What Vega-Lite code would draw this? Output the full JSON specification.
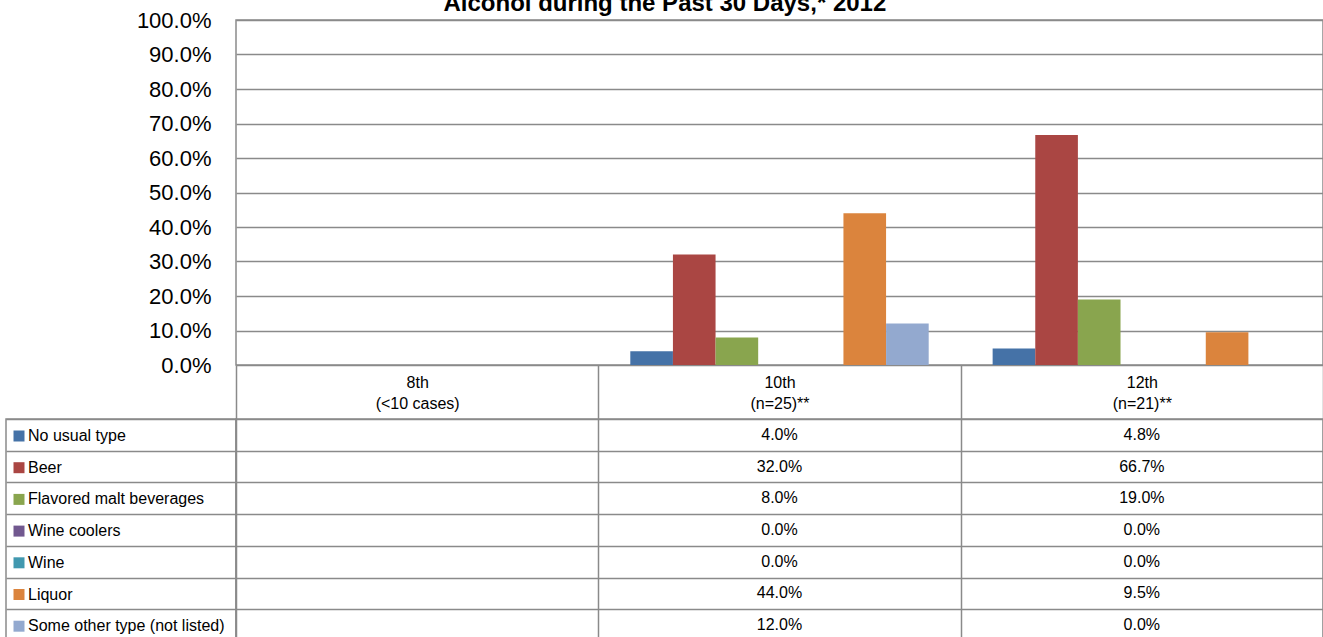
{
  "$schema": "https://vega.github.io/schema/vega-lite/v6.json",
  "padding": {"left": 5, "top": -8, "right": 0, "bottom": 0},
  "background": "white",
  "title": {
    "text": "Alcohol during the Past 30 Days,* 2012",
    "font": "Liberation Sans",
    "fontSize": 24,
    "fontWeight": "bold",
    "color": "black",
    "anchor": "middle",
    "offset": -8
  },
  "config": {
    "font": "Liberation Sans",
    "view": {"stroke": "#8a8a8a", "strokeWidth": 1.5}
  },
  "datasets": {
    "pct": [
      {"grade": "10th", "type": "No usual type", "value": 0.04},
      {"grade": "10th", "type": "Beer", "value": 0.32},
      {"grade": "10th", "type": "Flavored malt beverages", "value": 0.08},
      {"grade": "10th", "type": "Wine coolers", "value": 0.0},
      {"grade": "10th", "type": "Wine", "value": 0.0},
      {"grade": "10th", "type": "Liquor", "value": 0.44},
      {"grade": "10th", "type": "Some other type (not listed)", "value": 0.12},
      {"grade": "12th", "type": "No usual type", "value": 0.048},
      {"grade": "12th", "type": "Beer", "value": 0.667},
      {"grade": "12th", "type": "Flavored malt beverages", "value": 0.19},
      {"grade": "12th", "type": "Wine coolers", "value": 0.0},
      {"grade": "12th", "type": "Wine", "value": 0.0},
      {"grade": "12th", "type": "Liquor", "value": 0.095},
      {"grade": "12th", "type": "Some other type (not listed)", "value": 0.0}
    ]
  },
  "columns": 2,
  "spacing": {"row": 54, "column": 0},
  "bounds": "flush",
  "concat": [
    {
      "width": 230,
      "height": 345,
      "view": {"stroke": null},
      "data": {"name": "pct"},
      "mark": {"type": "text", "opacity": 0},
      "encoding": {"text": {"value": ""}}
    },
    {
      "width": 1087,
      "height": 345,
      "data": {"name": "pct"},
      "mark": {"type": "bar"},
      "encoding": {
        "x": {
          "field": "grade",
          "type": "nominal",
          "scale": {"domain": ["8th", "10th", "12th"], "paddingInner": 0, "paddingOuter": 0},
          "axis": {
            "title": null,
            "orient": "bottom",
            "domain": false,
            "grid": false,
            "ticks": true,
            "tickBand": "extent",
            "tickSize": 54,
            "tickColor": "#8a8a8a",
            "tickWidth": 1.5,
            "labelAngle": 0,
            "labelFontSize": 16,
            "labelColor": "black",
            "labelLineHeight": 21.5,
            "labelBaseline": "top",
            "labelPadding": -45,
            "labelExpr": "datum.extra ? '' : datum.value == '8th' ? ['8th', '(<10 cases)'] : datum.value == '10th' ? ['10th', '(n=25)**'] : ['12th', '(n=21)**']"
          }
        },
        "xOffset": {
          "field": "type",
          "type": "nominal",
          "scale": {
            "domain": ["No usual type", "Beer", "Flavored malt beverages", "Wine coolers", "Wine", "Liquor", "Some other type (not listed)"],
            "paddingInner": 0,
            "paddingOuter": 0.75
          }
        },
        "y": {
          "field": "value",
          "type": "quantitative",
          "scale": {"domain": [0, 1]},
          "axis": {
            "title": null,
            "format": ".1%",
            "values": [0, 0.1, 0.2, 0.3, 0.4, 0.5, 0.6, 0.7, 0.8, 0.9, 1],
            "domain": false,
            "ticks": false,
            "grid": true,
            "gridColor": "#8a8a8a",
            "gridWidth": 1.5,
            "labelFontSize": 22,
            "labelColor": "black",
            "labelPadding": 25
          }
        },
        "color": {
          "field": "type",
          "type": "nominal",
          "scale": {
            "domain": ["No usual type", "Beer", "Flavored malt beverages", "Wine coolers", "Wine", "Liquor", "Some other type (not listed)"],
            "range": ["#4572a7", "#aa4643", "#89a54e", "#71588f", "#4198af", "#db843d", "#93a9cf"]
          },
          "legend": {
            "title": null,
            "orient": "none",
            "legendX": 5,
            "legendY": 408,
            "direction": "vertical",
            "symbolType": "square",
            "symbolSize": 121,
            "symbolStrokeWidth": 0,
            "labelFontSize": 16,
            "labelColor": "black",
            "labelOffset": 1,
            "rowPadding": 15.7,
            "padding": 0,
            "labelLimit": 220
          }
        }
      }
    },
    {
      "width": 230,
      "height": 222,
      "data": {"name": "pct"},
      "mark": {"type": "text", "opacity": 0},
      "encoding": {
        "y": {
          "field": "type",
          "type": "nominal",
          "scale": {
            "domain": ["No usual type", "Beer", "Flavored malt beverages", "Wine coolers", "Wine", "Liquor", "Some other type (not listed)"],
            "paddingInner": 0,
            "paddingOuter": 0
          },
          "axis": {
            "title": null,
            "labels": false,
            "ticks": false,
            "domain": false,
            "grid": true,
            "tickBand": "extent",
            "gridColor": "#8a8a8a",
            "gridWidth": 1.5
          }
        },
        "text": {"value": ""}
      }
    },
    {
      "width": 1087,
      "height": 222,
      "data": {"name": "pct"},
      "mark": {"type": "text", "fontSize": 16, "color": "black"},
      "encoding": {
        "x": {
          "field": "grade",
          "type": "nominal",
          "scale": {"domain": ["8th", "10th", "12th"], "paddingInner": 0, "paddingOuter": 0},
          "axis": {
            "title": null,
            "labels": false,
            "ticks": false,
            "domain": false,
            "grid": true,
            "tickBand": "extent",
            "gridColor": "#8a8a8a",
            "gridWidth": 1.5
          }
        },
        "y": {
          "field": "type",
          "type": "nominal",
          "scale": {
            "domain": ["No usual type", "Beer", "Flavored malt beverages", "Wine coolers", "Wine", "Liquor", "Some other type (not listed)"],
            "paddingInner": 0,
            "paddingOuter": 0
          },
          "axis": {
            "title": null,
            "labels": false,
            "ticks": false,
            "domain": false,
            "grid": true,
            "tickBand": "extent",
            "gridColor": "#8a8a8a",
            "gridWidth": 1.5
          }
        },
        "text": {"field": "value", "type": "quantitative", "format": ".1%"}
      }
    }
  ],
  "resolve": {"scale": {"color": "shared"}}
}
